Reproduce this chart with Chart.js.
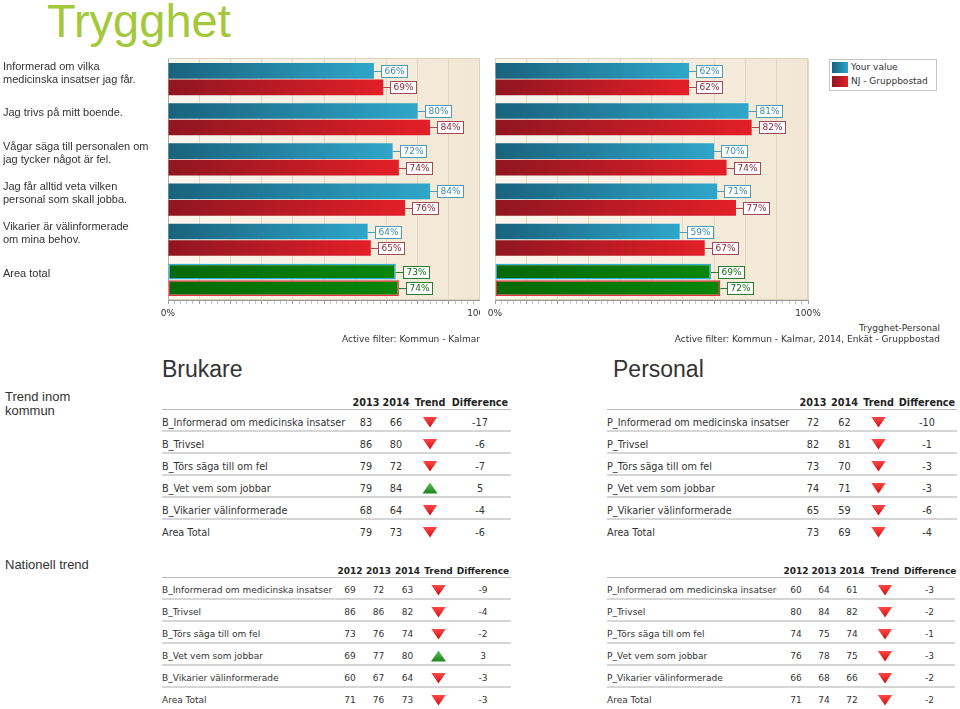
<!DOCTYPE html>
<html>
<head>
<meta charset="utf-8">
<script src="https://cdn.jsdelivr.net/npm/chart.js@4.4.1/dist/chart.umd.min.js"></script>
<style>
body { margin: 0; width: 960px; height: 709px; overflow: hidden; position: relative; background: #fff; color: #333; font-family: Arial, "Liberation Sans", sans-serif; }
.abs { position: absolute; white-space: nowrap; }
#title { left: 47px; top: -3px; font-size: 47px; line-height: 47px; color: #a3c83a; }
.head { font-size: 23px; line-height: 23px; }
.side { font-size: 13px; line-height: 14px; left: 5px; }
.foot { font-family: "DejaVu Sans"; font-size: 9px; line-height: 11px; text-align: right; }
#legend { left: 829px; top: 59px; width: 106px; height: 30px; border: 1px solid #c4c4c4; background: #fff; font-family: "DejaVu Sans"; font-size: 9px; }
#legend .sw { position: absolute; left: 2px; width: 16px; height: 11px; }
#legend .lt { position: absolute; left: 21px; line-height: 11px; }
table.tbl { position: absolute; border-collapse: collapse; table-layout: fixed; font-family: "DejaVu Sans"; color: #333; }
table.tbl th { padding: 0; height: 13px; font-weight: bold; color: #222; text-align: center; border-bottom: 1px solid #b8b8b8; white-space: nowrap; }
table.tbl td { padding: 4px 0 0 0; height: 16px; text-align: center; border-bottom: 2px solid #d6d6d6; white-space: nowrap; }
table.tbl tr:last-child td { border-bottom: none; }
table.tbl td.name { text-align: left; }
.tri { width: 15px; height: 11px; margin: 0 auto; }
.tri.down { clip-path: polygon(0 0, 100% 0, 50% 100%); background: linear-gradient(#ff4848, #cf0a0a); }
.tri.up { clip-path: polygon(50% 0, 100% 100%, 0 100%); background: linear-gradient(#5cbf5c, #1b7f1b); }
</style>
</head>
<body>
<div id="title" class="abs">Trygghet</div>

<div class="abs" style="left:0;top:50px;width:480px;height:290px;overflow:hidden">
  <canvas id="brukareChart" width="500" height="290"></canvas>
</div>
<canvas id="personalChart" class="abs" style="left:480px;top:50px" width="348" height="290"></canvas>

<div id="legend" class="abs"></div>

<div class="abs foot" style="right:480px;top:334px">Active filter: Kommun - Kalmar</div>
<div class="abs foot" style="right:20px;top:323px">Trygghet-Personal</div>
<div class="abs foot" style="right:20px;top:334px">Active filter: Kommun - Kalmar, 2014, Enkät - Gruppbostad</div>

<div class="abs head" style="left:162px;top:358px">Brukare</div>
<div class="abs head" style="left:613px;top:358px">Personal</div>
<div class="abs side" style="top:390px">Trend inom<br>kommun</div>
<div class="abs side" style="top:558px">Nationell trend</div>

<script>
// bar charts
const questions = [
    ['Informerad om vilka', 'medicinska insatser jag får.'],
    ['Jag trivs på mitt boende.'],
    ['Vågar säga till personalen om', 'jag tycker något är fel.'],
    ['Jag får alltid veta vilken', 'personal som skall jobba.'],
    ['Vikarier är välinformerade', 'om mina behov.'],
    ['Area total']
];
const seriesNames = ['Your value', 'NJ - Gruppbostad'];
const brukareYour = [66, 80, 72, 84, 64, 73];
const brukareNJ = [69, 84, 74, 76, 65, 74];
const personalYour = [62, 81, 70, 71, 59, 69];
const personalNJ = [62, 82, 74, 77, 67, 72];
const axisTicks = [0, 100];

// tables
const brukareRows = ['B_Informerad om medicinska insatser', 'B_Trivsel', 'B_Törs säga till om fel', 'B_Vet vem som jobbar', 'B_Vikarier välinformerade', 'Area Total'];
const personalRows = ['P_Informerad om medicinska insatser', 'P_Trivsel', 'P_Törs säga till om fel', 'P_Vet vem som jobbar', 'P_Vikarier välinformerade', 'Area Total'];
const kommunYears = ['2013', '2014'];
const nationYears = ['2012', '2013', '2014'];

const brukareKommun2013 = [83, 86, 79, 79, 68, 79];
const brukareKommun2014 = [66, 80, 72, 84, 64, 73];
const brukareKommunDiff = [-17, -6, -7, 5, -4, -6];
const personalKommun2013 = [72, 82, 73, 74, 65, 73];
const personalKommun2014 = [62, 81, 70, 71, 59, 69];
const personalKommunDiff = [-10, -1, -3, -3, -6, -4];

const brukareNat2012 = [69, 86, 73, 69, 60, 71];
const brukareNat2013 = [72, 86, 76, 77, 67, 76];
const brukareNat2014 = [63, 82, 74, 80, 64, 73];
const brukareNatDiff = [-9, -4, -2, 3, -3, -3];
const personalNat2012 = [60, 80, 74, 76, 66, 71];
const personalNat2013 = [64, 84, 75, 78, 68, 74];
const personalNat2014 = [61, 82, 74, 75, 66, 72];
const personalNatDiff = [-3, -2, -1, -3, -2, -2];

Chart.defaults.font.family = '"DejaVu Sans"';

const TOTAL = questions.length - 1;
const palettes = [['#19627c', '#2fa6ca'], ['#8f1620', '#e31f28']];
const greens = ['#066806', '#098609'];
const labelColors = [['#4f9bb5', '#3a8cab'], ['#a04a58', '#8a2a3c']];

function barFill(c, s) {
    const pal = c.dataIndex === TOTAL ? greens : palettes[s];
    const chart = c.chart, area = chart.chartArea;
    if (!area || c.type !== 'data' || !chart.scales.x) return pal[1];
    const end = chart.scales.x.getPixelForValue(c.parsed.x);
    const g = chart.ctx.createLinearGradient(area.left, 0, Math.max(end, area.left + 1), 0);
    g.addColorStop(0, pal[0]);
    g.addColorStop(1, pal[1]);
    return g;
}

const plotBg = {
    id: 'plotBg',
    beforeDraw(chart) {
        const { ctx, chartArea: a } = chart;
        ctx.save();
        const g = ctx.createLinearGradient(a.left, 0, a.right, 0);
        g.addColorStop(0, '#fbf6ee');
        g.addColorStop(1, '#f2e7d4');
        ctx.fillStyle = g;
        ctx.fillRect(a.left, a.top - 1, a.width, a.height + 1);
        ctx.strokeStyle = '#ddd2bd';
        ctx.lineWidth = 1;
        ctx.strokeRect(a.left + 0.5, a.top - 0.5, a.width - 1, a.height);
        ctx.restore();
    }
};

const valueLabels = {
    id: 'valueLabels',
    afterDatasetsDraw(chart) {
        const ctx = chart.ctx;
        ctx.save();
        ctx.font = '9px "DejaVu Sans"';
        ctx.textBaseline = 'middle';
        chart.data.datasets.forEach((ds, i) => {
            chart.getDatasetMeta(i).data.forEach((bar, j) => {
                const col = j === TOTAL ? ['#2e7a2e', '#1c6a1c'] : labelColors[i];
                const txt = ds.data[j] + '%';
                const w = Math.round(ctx.measureText(txt).width) + 6, h = 12;
                const x0 = Math.round(bar.x) + 7, y0 = Math.round(bar.y);
                ctx.strokeStyle = col[0];
                ctx.lineWidth = 1;
                ctx.beginPath();
                ctx.moveTo(bar.x, y0 + 0.5);
                ctx.lineTo(x0, y0 + 0.5);
                ctx.stroke();
                ctx.fillStyle = '#fff';
                ctx.fillRect(x0 + 0.5, y0 - h / 2 + 0.5, w, h);
                ctx.strokeRect(x0 + 0.5, y0 - h / 2 + 0.5, w, h);
                ctx.fillStyle = col[1];
                ctx.fillText(txt, x0 + 3.5, y0 + 1);
            });
        });
        ctx.restore();
    }
};

function barChart(id, your, nj, withLabels, padLeft) {
    const values = [your, nj];
    return new Chart(document.getElementById(id), {
        type: 'bar',
        data: {
            labels: questions,
            datasets: values.map((v, s) => ({
                label: seriesNames[s],
                data: v,
                backgroundColor: c => barFill(c, s),
                borderColor: s === 0 ? '#33abd2' : '#e2333c',
                borderWidth: c => c.dataIndex === TOTAL ? 1.5 : 0,
                borderSkipped: false,
                categoryPercentage: 0.82,
                barPercentage: 0.95
            }))
        },
        options: {
            indexAxis: 'y',
            responsive: false,
            animation: false,
            layout: { padding: { left: padLeft, right: 20, top: 9, bottom: 0 } },
            plugins: { legend: { display: false }, tooltip: { enabled: false } },
            scales: {
                x: {
                    min: 0, max: 100,
                    ticks: {
                        stepSize: 2, autoSkip: false, maxRotation: 0, padding: 4,
                        color: '#333', font: { size: 9 },
                        callback: v => axisTicks.includes(v) ? v + '%' : ''
                    },
                    grid: {
                        color: c => c.tick && c.tick.value % 10 === 0 ? '#e4d7c0' : 'rgba(0,0,0,0)',
                        tickColor: c => c.tick && c.tick.value % 10 === 0 ? '#999' : '#c4c4c4',
                        tickLength: 4
                    },
                    border: { color: '#9a9a9a' },
                    afterFit: s => { s.height = 40; s.paddingLeft = 0; s.paddingRight = 0; }
                },
                y: {
                    display: withLabels,
                    ticks: {
                        crossAlign: 'far', labelOffset: -6, padding: 0,
                        color: '#333', font: { family: 'Arial, "Liberation Sans"', size: 11, lineHeight: 1.18 }
                    },
                    grid: { display: false, drawTicks: false },
                    border: { display: true, color: '#b0b0b0' },
                    afterFit: s => { s.width = withLabels ? 165 : 0; s.paddingTop = 0; s.paddingBottom = 0; }
                }
            }
        },
        plugins: [plotBg, valueLabels]
    });
}

barChart('brukareChart', brukareYour, brukareNJ, true, 3);
barChart('personalChart', personalYour, personalNJ, false, 15);

// legend
const legend = document.getElementById('legend');
seriesNames.forEach((name, s) => {
    const sw = document.createElement('div');
    sw.className = 'sw';
    sw.style.top = (2 + s * 14) + 'px';
    sw.style.background = 'linear-gradient(90deg,' + palettes[s][0] + ',' + palettes[s][1] + ')';
    legend.appendChild(sw);
    const t = document.createElement('div');
    t.className = 'lt';
    t.style.top = (2 + s * 14) + 'px';
    t.textContent = name;
    legend.appendChild(t);
});

function buildTable(left, top, fontSize, widths, years, names, cols, diff) {
    const t = document.createElement('table');
    t.className = 'tbl';
    t.style.left = left + 'px';
    t.style.top = top + 'px';
    t.style.fontSize = fontSize + 'px';
    t.style.width = widths.reduce((a, b) => a + b, 0) + 'px';
    const cg = document.createElement('colgroup');
    widths.forEach(w => {
        const c = document.createElement('col');
        c.style.width = w + 'px';
        cg.appendChild(c);
    });
    t.appendChild(cg);
    const hr = t.insertRow();
    ['', ...years, 'Trend', 'Difference'].forEach(h => {
        const th = document.createElement('th');
        th.textContent = h;
        hr.appendChild(th);
    });
    names.forEach((n, r) => {
        const tr = t.insertRow();
        const nc = tr.insertCell();
        nc.className = 'name';
        nc.textContent = n;
        cols.forEach(col => { tr.insertCell().textContent = col[r]; });
        const tc = tr.insertCell();
        const tri = document.createElement('div');
        tri.className = 'tri ' + (diff[r] < 0 ? 'down' : 'up');
        tc.appendChild(tri);
        tr.insertCell().textContent = diff[r];
    });
    document.body.appendChild(t);
}

buildTable(162, 396, 9.7, [189, 30, 30, 38, 62], kommunYears, brukareRows,
    [brukareKommun2013, brukareKommun2014], brukareKommunDiff);
buildTable(607, 396, 9.7, [190, 32, 31, 37, 60], kommunYears, personalRows,
    [personalKommun2013, personalKommun2014], personalKommunDiff);
buildTable(162, 564, 9, [174, 28, 29, 29, 33, 56], nationYears, brukareRows,
    [brukareNat2012, brukareNat2013, brukareNat2014], brukareNatDiff);
buildTable(607, 564, 9, [175, 28, 28, 28, 38, 51], nationYears, personalRows,
    [personalNat2012, personalNat2013, personalNat2014], personalNatDiff);
</script>
</body>
</html>
